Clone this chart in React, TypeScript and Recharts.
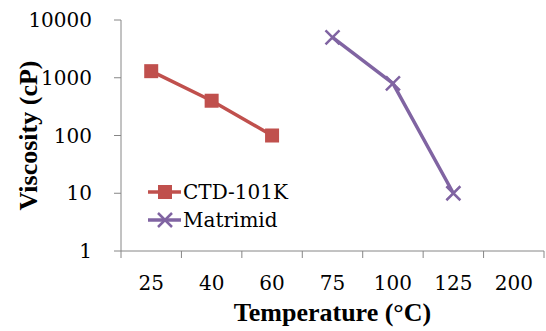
import React from 'react';
import { LineChart, Line, XAxis, YAxis, Legend } from 'recharts';

const temperatures = ['25', '40', '60', '75', '100', '125', '200'];
const ctd101k = [1300, 400, 100, null, null, null, null];
const matrimid = [null, null, null, 5000, 800, 10, null];
const yTicks = [1, 10, 100, 1000, 10000];

const data = temperatures.map((t, i) => ({
  temp: t,
  ctd: ctd101k[i],
  matrimid: matrimid[i],
}));

const W = 546;
const H = 331;
const PLOT_LEFT = 121;
const PLOT_RIGHT = 544;
const HALF_BAND = (PLOT_RIGHT - PLOT_LEFT) / temperatures.length / 2;

const TITLE_FONT = 'Liberation Serif';
const FONT = '"DejaVu Serif", serif';
const RED = '#c0504d';
const PURPLE = '#8064a2';
const AXIS = '#868686';

const SquareDot = (p: any) => {
  if (p.value == null || p.cx == null || p.cy == null) return <g key={p.index} />;
  return <rect key={p.index} x={p.cx - 7} y={p.cy - 7} width={14} height={14} fill={RED} />;
};

const CrossDot = (p: any) => {
  if (p.value == null || p.cx == null || p.cy == null) return <g key={p.index} />;
  return (
    <path
      key={p.index}
      d={`M${p.cx - 7},${p.cy - 7}L${p.cx + 7},${p.cy + 7}M${p.cx - 7},${p.cy + 7}L${p.cx + 7},${p.cy - 7}`}
      stroke={PURPLE}
      strokeWidth={2.5}
      fill="none"
    />
  );
};

// tick marks sit between categories, labels in the middle
const XTick = (p: any) => {
  const { x, y, payload, index } = p;
  return (
    <g>
      <line x1={x - HALF_BAND} y1={y} x2={x - HALF_BAND} y2={y + 7} stroke={AXIS} />
      {index === temperatures.length - 1 && (
        <line x1={x + HALF_BAND} y1={y} x2={x + HALF_BAND} y2={y + 7} stroke={AXIS} />
      )}
      <text x={x} y={y + 39} textAnchor="middle" fontSize={20} fontFamily={FONT} fill="#000">
        {payload.value}
      </text>
    </g>
  );
};

const YTick = (p: any) => {
  const { x, y, payload } = p;
  return (
    <text x={x} y={y} dy="0.36em" textAnchor="end" fontSize={20} fontFamily={FONT} fill="#000">
      {payload.value}
    </text>
  );
};

const LegendContent = () => {
  const items = [
    { name: 'CTD-101K', color: RED, marker: 'square' },
    { name: 'Matrimid', color: PURPLE, marker: 'cross' },
  ];
  return (
    <div style={{ fontFamily: FONT, fontSize: 20, color: '#000' }}>
      {items.map((it) => (
        <div key={it.name} style={{ display: 'flex', alignItems: 'center', height: 28 }}>
          <svg width={34} height={20} style={{ marginRight: 1 }}>
            <line x1={0} y1={10} x2={33} y2={10} stroke={it.color} strokeWidth={3.5} />
            {it.marker === 'square' ? (
              <rect x={10} y={3} width={14} height={14} fill={it.color} />
            ) : (
              <path d="M10,3L24,17M10,17L24,3" stroke={it.color} strokeWidth={2.5} />
            )}
          </svg>
          <span style={{ lineHeight: '28px' }}>{it.name}</span>
        </div>
      ))}
    </div>
  );
};

export default function App() {
  return (
    <div style={{ position: 'absolute', left: 0, top: 0, width: W, height: H, background: '#fff' }}>
      <LineChart width={W} height={H} data={data} margin={{ top: 20, right: 2, bottom: 0, left: 0 }}>
        <XAxis
          dataKey="temp"
          height={80}
          padding={{ left: HALF_BAND, right: HALF_BAND }}
          tickSize={0}
          tickMargin={0}
          tickLine={false}
          axisLine={{ stroke: AXIS }}
          tick={<XTick />}
          interval={0}
          label={(props: any) => {
            const vb = props.viewBox;
            return (
              <text
                x={vb.x + vb.width / 2}
                y={vb.y + 70}
                textAnchor="middle"
                fontSize={26}
                fontWeight="bold"
                fontFamily={TITLE_FONT}
                fill="#000"
              >
                Temperature (°C)
              </text>
            );
          }}
        />
        <XAxis xAxisId="top" dataKey="temp" orientation="top" height={0} tick={false} tickLine={false} axisLine={{ stroke: '#d9d9d9' }} />
        <YAxis
          scale="log"
          domain={[1, 10000]}
          ticks={yTicks}
          allowDataOverflow
          width={121}
          tickSize={7}
          tickMargin={22}
          tickLine={{ stroke: AXIS }}
          axisLine={{ stroke: AXIS }}
          tick={<YTick />}
          label={(props: any) => {
            const vb = props.viewBox;
            const cx = vb.x + 28;
            const cy = vb.y + vb.height / 2;
            return (
              <text
                x={cx}
                y={cy}
                transform={`rotate(-90, ${cx}, ${cy})`}
                textAnchor="middle"
                dominantBaseline="central"
                fontSize={26}
                fontWeight="bold"
                fontFamily={TITLE_FONT}
                fill="#000"
              >
                Viscosity (cP)
              </text>
            );
          }}
        />
        <YAxis yAxisId="right" orientation="right" width={0} tick={false} tickLine={false} axisLine={{ stroke: '#d9d9d9' }} />
        <Legend
          layout="vertical"
          align="center"
          verticalAlign="middle"
          content={<LegendContent />}
          wrapperStyle={{ position: 'absolute', left: 148, top: 178, width: 'auto', height: 'auto', bottom: 'auto', right: 'auto' }}
        />
        <Line
          dataKey="ctd"
          name="CTD-101K"
          stroke={RED}
          strokeWidth={3.5}
          dot={SquareDot}
          activeDot={false}
          isAnimationActive={false}
        />
        <Line
          dataKey="matrimid"
          name="Matrimid"
          stroke={PURPLE}
          strokeWidth={3.5}
          dot={CrossDot}
          activeDot={false}
          isAnimationActive={false}
        />
      </LineChart>
    </div>
  );
}
